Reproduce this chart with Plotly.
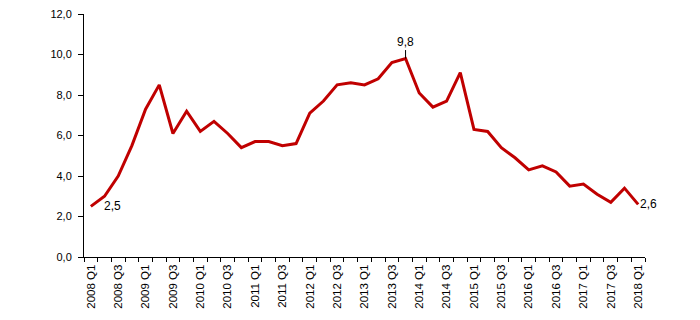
import plotly.graph_objects as go

years = list(range(2008, 2019))
quarters = [f"{y} Q{q}" for y in years for q in (1, 2, 3, 4)][:41]

values = [2.5, 3.0, 4.0, 5.5, 7.3, 8.5, 6.1, 7.2, 6.2, 6.7,
          6.1, 5.4, 5.7, 5.7, 5.5, 5.6, 7.1, 7.7, 8.5, 8.6,
          8.5, 8.8, 9.6, 9.8, 8.1, 7.4, 7.7, 9.1, 6.3, 6.2,
          5.4, 4.9, 4.3, 4.5, 4.2, 3.5, 3.6, 3.1, 2.7, 3.4,
          2.6]

y_ticks = [0, 2, 4, 6, 8, 10, 12]

idx = list(range(len(quarters)))

fig = go.Figure()
fig.add_trace(go.Scatter(
    x=idx, y=values, mode="lines",
    line=dict(color="#C00000", width=3),
    hoverinfo="skip", showlegend=False,
))

font = "Liberation Sans, Arial, sans-serif"
peak = values.index(max(values))
fig.add_annotation(x=0, y=values[0], text="2,5", showarrow=False,
                   xanchor="left", yanchor="middle", xshift=11, yshift=0,
                   font=dict(family=font, size=12, color="#000"))
fig.add_annotation(x=peak, y=values[peak], text="9,8", showarrow=True,
                   arrowhead=0, arrowwidth=1, arrowcolor="#000",
                   ax=0, ay=-17, standoff=0,
                   font=dict(family=font, size=12, color="#000"))
fig.add_annotation(x=len(values) - 1, y=values[-1], text="2,6", showarrow=False,
                   xanchor="left", yanchor="middle", xshift=0, yshift=0,
                   font=dict(family=font, size=12, color="#000"))

fig.update_layout(
    width=700, height=320,
    margin=dict(l=76, r=63, t=6, b=71),
    paper_bgcolor="white", plot_bgcolor="white",
    separators=", ",
    font=dict(family=font, size=12, color="#000"),
)
fig.update_xaxes(
    range=[-0.5, len(quarters) - 0.5],
    tickvals=idx[::2], ticktext=quarters[::2], tickangle=-90,
    ticks="", showgrid=False, zeroline=False, automargin=False,
    showline=True, linecolor="#000", linewidth=1,
    ticklabelstandoff=2, ticklabeloverflow="allow",
    minor=dict(ticks="outside", tick0=-0.5, dtick=1, ticklen=4,
               tickcolor="#000", tickwidth=1, showgrid=False),
    tickfont=dict(family=font, size=11.5, color="#000"),
)
fig.update_yaxes(
    range=[0, 12], tickvals=y_ticks, tickformat=".1f",
    ticks="outside", ticklen=5, tickcolor="#000",
    showgrid=False, zeroline=False, automargin=False,
    showline=True, linecolor="#000", linewidth=1,
    ticklabelstandoff=4, ticklabeloverflow="allow",
    tickfont=dict(family=font, size=11, color="#000"),
)

fig.write_html("out.html")
